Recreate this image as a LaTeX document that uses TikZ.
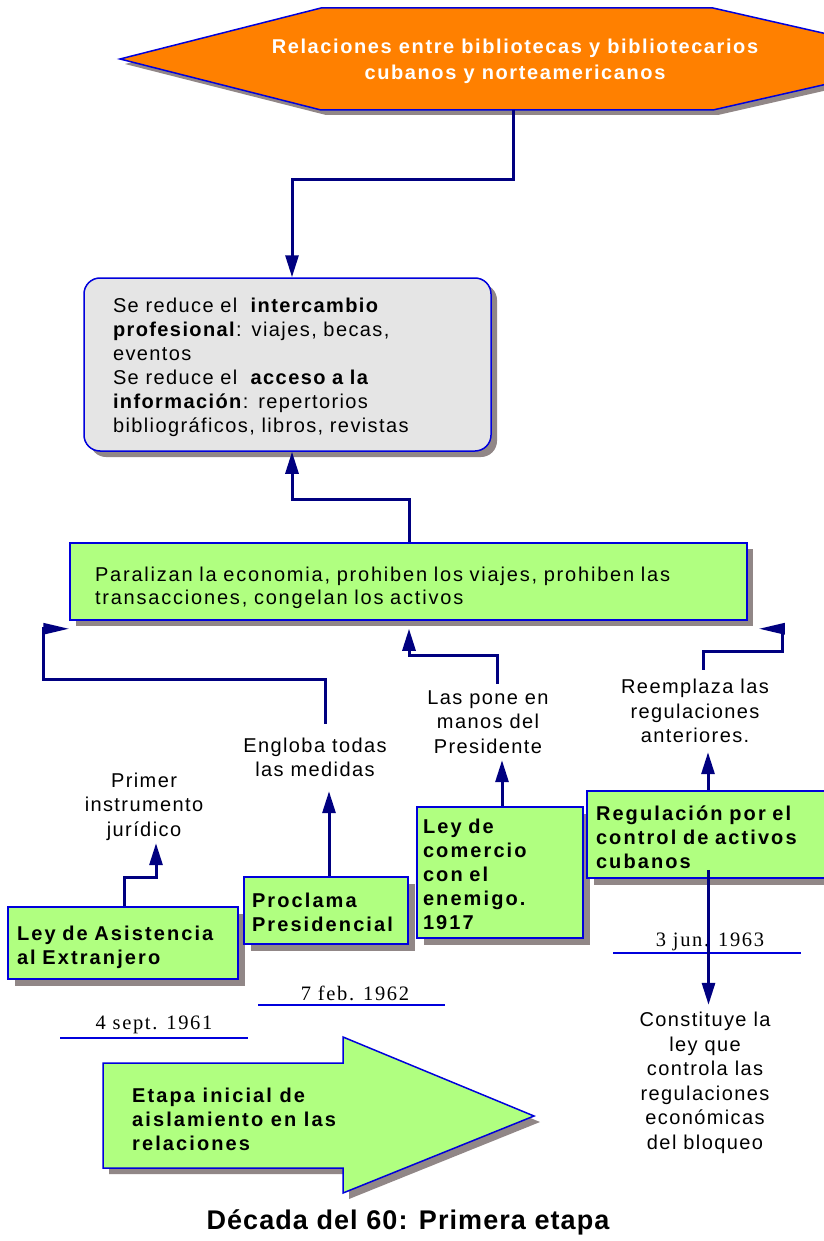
\documentclass[tikz,border=0pt]{standalone}
\usepackage{fontspec}
\setmainfont{Liberation Sans}
\newfontfamily\trk[LetterSpace=7]{Liberation Sans}
\newfontfamily\trkw[LetterSpace=9]{Liberation Sans}
\newfontfamily\trkb[LetterSpace=10.5]{Liberation Sans}
\newfontfamily\trkh[LetterSpace=8]{Liberation Sans}
\newfontfamily\datef[LetterSpace=8]{Liberation Serif}
\newfontfamily\titf[LetterSpace=4]{Liberation Sans}
\usetikzlibrary{shadows,arrows.meta,calc}
\definecolor{orangec}{RGB}{255,128,0}
\definecolor{greenc}{RGB}{176,255,128}
\definecolor{grayc}{RGB}{229,229,229}
\definecolor{bordc}{RGB}{0,0,220}
\definecolor{navyc}{RGB}{0,0,128}
\definecolor{shadowc}{RGB}{145,135,135}
\newcommand{\topstrut}[1]{\rule{0pt}{#1pt}}
\tikzset{
  conn/.style={draw=navyc, line width=3pt, -{Triangle[length=22pt,width=13pt]}},
  connh/.style={draw=navyc, line width=3pt, -{Triangle[length=26pt,width=11pt]}},
  shad/.style={drop shadow={shadow xshift=#1, shadow yshift=-#1, fill=shadowc, opacity=1}},
  bx/.style={draw=bordc, line width=1.5pt, inner sep=0pt, align=left},
  greenbox/.style={bx, fill=greenc, shad=7pt, font=\trkb\bfseries\fontsize{20}{24}\selectfont},
  lab/.style={font=\trk\fontsize{20}{24.5}\selectfont, align=center, inner sep=0pt},
  datel/.style={font=\datef\fontsize{20.5}{24}\selectfont, inner sep=0pt},
  dateline/.style={draw=bordc, line width=1.2pt},
}
\begin{document}
\begin{tikzpicture}[x=1pt,y=-1pt]
\useasboundingbox (0,0) rectangle (823,1241);
\fill[white] (0,0) rectangle (823,1241);

% top hexagon
\path[draw=bordc, line width=1.5pt, fill=orangec, shad=5pt]
  (120,59) -- (321,8) -- (713,8) -- (937,59) -- (713,110) -- (321,110) -- cycle;
\node[text=white, align=center, inner sep=0pt,
      font=\trkh\bfseries\fontsize{20}{26}\selectfont] (hextxt) at (515,61)
  {Relaciones entre bibliotecas y bibliotecarios\\cubanos y norteamericanos};
\coordinate (hexb) at (513,110);

% gray box
\node[bx, fill=grayc, rounded corners=16pt, shad=6pt, minimum width=407, minimum height=173,
      text width=349, font=\trk\fontsize{20}{24}\selectfont] (gray) at (287.5,364.5)
  {\topstrut{20.5}Se reduce el\hspace{12pt}\textbf{intercambio}\\
   \textbf{profesional}: viajes, becas,\\
   eventos\\
   Se reduce el\hspace{12pt}\textbf{acceso a la}\\
   \textbf{información}: repertorios\\
   bibliográficos, libros, revistas};

% green band
\node[bx, fill=greenc, shad=6pt, minimum width=677, minimum height=77, text width=627,
      font=\trkw\fontsize{20}{23}\selectfont] (band) at (408.5,581.5)
  {\topstrut{28}Paralizan la economia, prohiben los viajes, prohiben las\\
   transacciones, congelan los activos};

% bottom boxes
\node[greenbox, minimum width=230, minimum height=72, text width=212] (leyasis) at (123,943)
  {\topstrut{22.5}Ley de Asistencia\\al Extranjero};
\node[greenbox, minimum width=164, minimum height=67, text width=148] (procl) at (326,910.5)
  {\topstrut{17.5}Proclama\\Presidencial};
\node[greenbox, minimum width=166, minimum height=131, text width=154] (com) at (500,872.5)
  {\topstrut{18.5}Ley de\\comercio\\con el\\enemigo.\\1917};
\node[greenbox, minimum width=243, minimum height=87, text width=225] (regul) at (708.5,834.5)
  {\topstrut{20.5}Regulación por el\\control de activos\\cubanos};

% labels
\node[lab, minimum height=73] (primer) at (144,806.5) {Primer\\instrumento\\jurídico};
\node[lab, minimum height=67] (engl) at (315,757.5) {Engloba todas\\las medidas};
\node[lab, minimum height=76] (lp) at (488,722) {Las pone en\\manos del\\Presidente};
\node[lab, minimum height=82] (reem) at (695,711) {Reemplaza las\\regulaciones\\anteriores.};
\node[lab, minimum height=152] (cons) at (705,1081)
  {\topstrut{18.5}Constituye la\\ley que\\controla las\\regulaciones\\económicas\\del bloqueo};

% dates
\node[datel] (d1) at (154,1025) {4 sept. 1961};
\draw[dateline] ($(d1)+(-94,13)$) -- ($(d1)+(94,13)$);
\node[datel] (d2) at (355,993) {7 feb. 1962};
\draw[dateline] ($(d2)+(-97,12)$) -- ($(d2)+(90,12)$);
\node[datel] (d3) at (710,942) {3 jun. 1963};
\draw[dateline] ($(d3)+(-97,11)$) -- ($(d3)+(91,11)$);

% big arrow
\path[draw=bordc, line width=1.5pt, fill=greenc, shad=6pt]
  (103,1063) -- (343,1063) -- (343,1037) -- (534,1116) -- (343,1193) -- (343,1168) -- (103,1168) -- cycle;
\node[anchor=west, align=left, inner sep=0pt, font=\trkb\bfseries\fontsize{20}{24}\selectfont]
  (etapa) at (132,1119) {Etapa inicial de\\aislamiento en las\\relaciones};

% title
\node[font=\titf\bfseries\fontsize{27}{31}\selectfont, inner sep=0pt] (title) at (408,1222)
  {Década del 60: Primera etapa};

% connectors
\draw[conn] (hexb) -- ++(0,70) -| ([xshift=4.5]gray.north);
\draw[conn] ([xshift=0.5]band.north) -- ++(0,-43) -| ([xshift=4.5]gray.south);
\draw[connh] ([xshift=10]engl.north) -- ++(0,-44) -- ++(-282,0) |- ($(band.south west)+(0,8)$);
\draw[conn] ([xshift=9]lp.north) -- ++(0,-28) -| ($(band.south)+(0.5,8)$);
\draw[connh] ([xshift=8]reem.north) -- ++(0,-18) -- ++(79,0) |- ($(band.south east)+(11,8)$);
\draw[conn] ([xshift=3]procl.north) -- ([xshift=3]procl.north |- engl.south);
\draw[conn] ([xshift=2]com.north) -- ([xshift=2]com.north |- lp.south);
\draw[conn] ([xshift=-0.5]regul.north) -- ([xshift=-0.5]regul.north |- reem.south);
\draw[conn] ([xshift=1]leyasis.north) -- ++(0,-29) -| ([xshift=12]primer.south);
\draw[conn] ([yshift=9]regul.south) -- (regul.south |- cons.north);
\end{tikzpicture}
\end{document}
